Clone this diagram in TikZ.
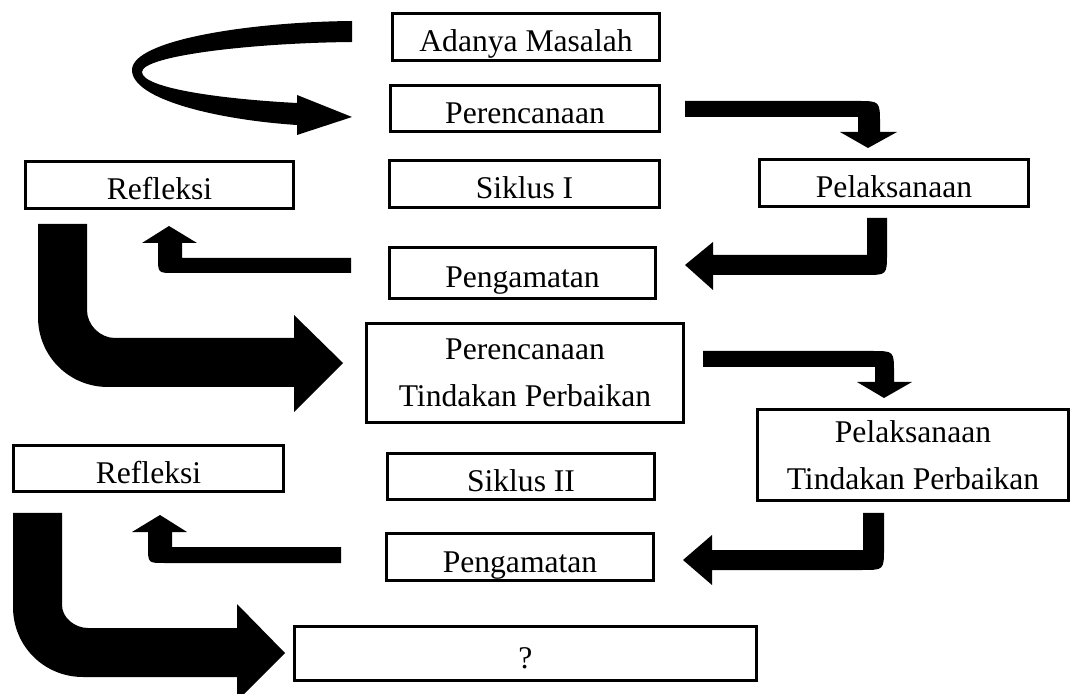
\documentclass[tikz,border=0pt]{standalone}
\usepackage{fontspec}
\setmainfont{Liberation Serif}
\begin{document}
\begin{tikzpicture}[x=0.5pt,y=-0.5pt]
\tikzset{
  box/.style={draw, line width=1.5pt, inner sep=0pt,
    font=\fontsize{15.8}{23.5}\selectfont, text height=19pt, text depth=4pt},
  boxtwo/.style={draw, line width=1.5pt, inner sep=0pt, align=center,
    font=\fontsize{15.8}{23.5}\selectfont},
  blk/.style={fill=black, draw=none}
}
\useasboundingbox (0,0) rectangle (1070,694);

% boxes
\node[box, minimum width=133.5pt, minimum height=23.5pt] (am)   at (526,37)    {Adanya Masalah};
\node[box, minimum width=134.5pt, minimum height=22.5pt] (per1) at (525,109)   {Perencanaan};
\node[box, minimum width=134pt,   minimum height=23.5pt] (ref1) at (159.5,185) {Refleksi};
\node[box, minimum width=135pt,   minimum height=23.5pt] (sik1) at (524.5,184) {Siklus I};
\node[box, minimum width=134.5pt, minimum height=23.5pt] (pel1) at (894,183)   {Pelaksanaan};
\node[box, minimum width=133pt,   minimum height=25.5pt] (pen1) at (522.5,273) {Pengamatan};
\node[boxtwo, minimum width=158.5pt, minimum height=49.5pt] (ptp) at (525,373) {Perencanaan\\Tindakan Perbaikan};
\node[boxtwo, minimum width=155.5pt, minimum height=45.5pt] (peltp) at (913,455) {Pelaksanaan\\Tindakan Perbaikan};
\node[box, minimum width=135pt,   minimum height=23pt]   (ref2) at (148.5,468.5) {Refleksi};
\node[box, minimum width=133.5pt, minimum height=22.5pt] (sik2) at (521,477)   {Siklus II};
\node[box, minimum width=133.5pt, minimum height=23.5pt] (pen2) at (520,557)   {Pengamatan};
\node[box, minimum width=231pt,   minimum height=27pt]   (q)    at (525.5,653.5) {?};

% curved arrow: Adanya Masalah -> Perencanaan
\fill[blk] (352,21) .. controls (250,22) and (132,40) .. (132,70)
  .. controls (132,100) and (220,120) .. (297,125)
  -- (297,135) -- (352,117) -- (297,95) -- (297,103)
  .. controls (220,99) and (142,88) .. (142,72)
  .. controls (142,56) and (250,43) .. (352,42) -- cycle;

% Perencanaan -> Pelaksanaan
\fill[blk] (685,101) -- (857,101) .. controls (880,101) .. (880,124) -- (880,132)
  -- (897,132) -- (868,148) -- (840,132) -- (858,132) -- (858,117) -- (685,117) -- cycle;

% Pelaksanaan -> Pengamatan
\fill[blk] (867,218) -- (887,218) -- (887,253) .. controls (887,275) .. (865,275)
  -- (713,275) -- (713,290) -- (685,265) -- (713,242) -- (713,255) -- (867,255) -- cycle;

% Pengamatan -> Refleksi
\fill[blk] (351,258) -- (182,258) -- (182,243) -- (197,243) -- (169,226) -- (142,243)
  -- (158,243) -- (158,257) .. controls (158,273) .. (174,273) -- (351,273) -- cycle;

% Refleksi -> Perencanaan Tindakan Perbaikan
\fill[blk] (38,224) -- (87,224) -- (87,310) .. controls (87,325) and (100,338) .. (115,338)
  -- (294,338) -- (294,315) -- (343,363) -- (294,412) -- (294,387) -- (108,387)
  .. controls (69,387) and (38,356) .. (38,317) -- cycle;

% Perencanaan TP -> Pelaksanaan TP
\fill[blk] (703,351) -- (872,351) .. controls (894,351) .. (894,373) -- (894,382)
  -- (912,382) -- (884,398) -- (857,382) -- (875,382) -- (875,367) -- (703,367) -- cycle;

% Pelaksanaan TP -> Pengamatan
\fill[blk] (863,513) -- (884,513) -- (884,548) .. controls (884,570) .. (862,570)
  -- (712,570) -- (712,585) -- (683,560) -- (712,535) -- (712,550) -- (863,550) -- cycle;

% Pengamatan -> Refleksi
\fill[blk] (341,547) -- (172,547) -- (172,532) -- (187,532) -- (160,515) -- (132,532)
  -- (148,532) -- (148,546) .. controls (148,563) .. (164,563) -- (341,563) -- cycle;

% Refleksi -> ?
\fill[blk] (13,513) -- (62,513) -- (62,605) .. controls (62,618) and (75,628) .. (88,628)
  -- (237,628) -- (237,604) -- (285,653) -- (237,701) -- (237,677) -- (83,677)
  .. controls (44,677) and (13,646) .. (13,607) -- cycle;
\end{tikzpicture}
\end{document}
